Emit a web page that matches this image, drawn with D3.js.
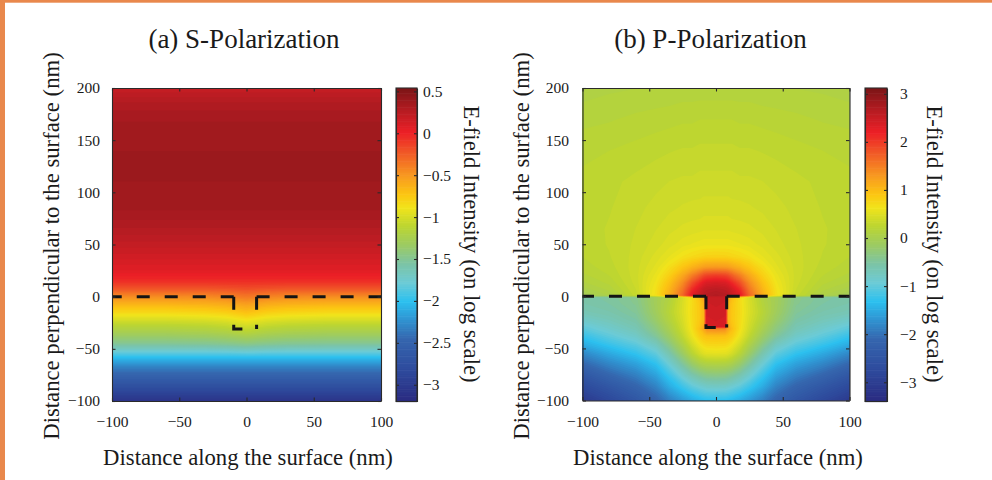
<!DOCTYPE html>
<html>
<head>
<meta charset="utf-8">
<script src="https://cdn.jsdelivr.net/npm/d3@7"></script>
<style>
  body { margin: 0; background: #fff; }
  svg { display: block; }
</style>
</head>
<body>
<svg id="fig" width="992" height="480"></svg>
<script>
// ---------- shared axes ----------
const xTicks = [-100, -50, 0, 50, 100];
const yTicks = [-100, -50, 0, 50, 100, 150, 200];
const xLabel = "Distance along the surface (nm)";
const yLabel = "Distance perpendicular to the surface (nm)";
const barLabel = "E-field Intensity (on log scale)";

// ---------- (a) S-polarization: log10 |E|^2 sampled on a grid (rows top -> bottom) ----------
const sTitle = "(a) S-Polarization";
const sGridX = [-100, -60, -30, -15, 0, 15, 30, 60, 100];
const sGridY = [200, 185, 170, 150, 125, 100, 85, 70, 55, 40, 25, 15, 8, 0, -8, -16, -25, -35, -45, -52, -58, -67, -78, -88, -100];
const sField = [
  [0.20, 0.20, 0.20, 0.20, 0.20, 0.20, 0.20, 0.20, 0.20],
  [0.30, 0.30, 0.30, 0.30, 0.30, 0.30, 0.30, 0.30, 0.30],
  [0.35, 0.35, 0.35, 0.35, 0.35, 0.35, 0.35, 0.35, 0.35],
  [0.38, 0.38, 0.38, 0.38, 0.38, 0.38, 0.38, 0.38, 0.38],
  [0.39, 0.39, 0.39, 0.39, 0.39, 0.39, 0.39, 0.39, 0.39],
  [0.38, 0.38, 0.38, 0.38, 0.38, 0.38, 0.38, 0.38, 0.38],
  [0.36, 0.36, 0.36, 0.36, 0.36, 0.36, 0.36, 0.36, 0.36],
  [0.31, 0.31, 0.31, 0.31, 0.31, 0.31, 0.31, 0.31, 0.31],
  [0.24, 0.24, 0.24, 0.24, 0.24, 0.24, 0.24, 0.24, 0.24],
  [0.16, 0.16, 0.16, 0.16, 0.16, 0.16, 0.16, 0.16, 0.16],
  [0.07, 0.07, 0.07, 0.07, 0.07, 0.07, 0.07, 0.07, 0.07],
  [-0.04, -0.04, -0.04, -0.04, -0.04, -0.04, -0.04, -0.04, -0.04],
  [-0.20, -0.20, -0.20, -0.19, -0.17, -0.19, -0.20, -0.20, -0.20],
  [-0.45, -0.45, -0.44, -0.41, -0.36, -0.41, -0.44, -0.45, -0.45],
  [-0.66, -0.66, -0.64, -0.61, -0.55, -0.61, -0.64, -0.66, -0.66],
  [-0.84, -0.84, -0.82, -0.79, -0.72, -0.79, -0.82, -0.84, -0.84],
  [-1.06, -1.06, -1.04, -1.01, -0.94, -1.01, -1.04, -1.06, -1.06],
  [-1.27, -1.27, -1.25, -1.22, -1.16, -1.22, -1.25, -1.27, -1.27],
  [-1.50, -1.50, -1.49, -1.47, -1.44, -1.47, -1.49, -1.50, -1.50],
  [-1.75, -1.75, -1.75, -1.74, -1.72, -1.74, -1.75, -1.75, -1.75],
  [-2.00, -2.00, -2.00, -2.00, -2.00, -2.00, -2.00, -2.00, -2.00],
  [-2.30, -2.30, -2.30, -2.30, -2.30, -2.30, -2.30, -2.30, -2.30],
  [-2.55, -2.55, -2.55, -2.55, -2.55, -2.55, -2.55, -2.55, -2.55],
  [-2.80, -2.80, -2.80, -2.80, -2.80, -2.80, -2.80, -2.80, -2.80],
  [-3.08, -3.08, -3.08, -3.08, -3.08, -3.08, -3.08, -3.08, -3.08]
];
const sRange = [-3.2, 0.54];
const sBarTicks = [0.5, 0, -0.5, -1, -1.5, -2, -2.5, -3];
const sTrench = [[-9.5, 0], [-9.5, -31], [7.5, -31], [7.5, 0]];

// ---------- (b) P-polarization ----------
const pTitle = "(b) P-Polarization";
const pGridX = [-100, -80, -60, -45, -35, -25, -18, -12, -9, -7, 0, 7, 9, 12, 18, 25, 35, 45, 60, 80, 100];
const pGridY = [200, 170, 140, 110, 85, 65, 50, 38, 28, 20, 13, 7, 1, -1, -7, -15, -22, -29, -31, -38, -45, -55, -65, -75, -87, -100];
const pField = [
  [0.10, 0.12, 0.13, 0.14, 0.14, 0.15, 0.15, 0.15, 0.15, 0.15, 0.15, 0.15, 0.15, 0.15, 0.15, 0.15, 0.14, 0.14, 0.13, 0.12, 0.10],
  [0.17, 0.18, 0.20, 0.21, 0.22, 0.23, 0.23, 0.24, 0.24, 0.24, 0.24, 0.24, 0.24, 0.24, 0.23, 0.23, 0.22, 0.21, 0.20, 0.18, 0.17],
  [0.22, 0.24, 0.26, 0.28, 0.29, 0.30, 0.30, 0.31, 0.31, 0.31, 0.31, 0.31, 0.31, 0.31, 0.30, 0.30, 0.29, 0.28, 0.26, 0.24, 0.22],
  [0.26, 0.28, 0.31, 0.33, 0.35, 0.36, 0.36, 0.37, 0.37, 0.37, 0.37, 0.37, 0.37, 0.37, 0.36, 0.36, 0.35, 0.33, 0.31, 0.28, 0.26],
  [0.27, 0.29, 0.33, 0.37, 0.39, 0.41, 0.42, 0.42, 0.43, 0.43, 0.43, 0.43, 0.43, 0.42, 0.42, 0.41, 0.39, 0.37, 0.33, 0.29, 0.27],
  [0.27, 0.30, 0.35, 0.40, 0.44, 0.47, 0.48, 0.49, 0.50, 0.50, 0.50, 0.50, 0.50, 0.49, 0.48, 0.47, 0.44, 0.40, 0.35, 0.30, 0.27],
  [0.26, 0.30, 0.36, 0.43, 0.49, 0.54, 0.57, 0.59, 0.60, 0.60, 0.60, 0.60, 0.60, 0.59, 0.57, 0.54, 0.49, 0.43, 0.36, 0.30, 0.26],
  [0.24, 0.29, 0.37, 0.48, 0.57, 0.68, 0.74, 0.78, 0.80, 0.81, 0.82, 0.81, 0.80, 0.78, 0.74, 0.68, 0.57, 0.48, 0.37, 0.29, 0.24],
  [0.21, 0.27, 0.38, 0.53, 0.70, 0.92, 1.08, 1.20, 1.26, 1.28, 1.30, 1.28, 1.26, 1.20, 1.08, 0.92, 0.70, 0.53, 0.38, 0.27, 0.21],
  [0.17, 0.24, 0.38, 0.59, 0.83, 1.18, 1.50, 1.75, 1.90, 1.95, 2.00, 1.95, 1.90, 1.75, 1.50, 1.18, 0.83, 0.59, 0.38, 0.24, 0.17],
  [0.12, 0.20, 0.37, 0.64, 0.96, 1.40, 1.85, 2.15, 2.30, 2.36, 2.40, 2.36, 2.30, 2.15, 1.85, 1.40, 0.96, 0.64, 0.37, 0.20, 0.12],
  [0.05, 0.15, 0.35, 0.68, 1.05, 1.55, 2.10, 2.40, 2.52, 2.56, 2.60, 2.56, 2.52, 2.40, 2.10, 1.55, 1.05, 0.68, 0.35, 0.15, 0.05],
  [-0.03, 0.08, 0.32, 0.70, 1.12, 1.68, 2.30, 2.50, 2.62, 2.66, 2.70, 2.66, 2.62, 2.50, 2.30, 1.68, 1.12, 0.70, 0.32, 0.08, -0.03],
  [-0.55, -0.50, -0.38, -0.05, 0.12, 0.45, 0.72, 1.00, 1.25, 2.48, 2.50, 2.48, 1.25, 1.00, 0.72, 0.45, 0.12, -0.05, -0.38, -0.50, -0.55],
  [-0.58, -0.52, -0.40, -0.05, 0.16, 0.47, 0.72, 0.92, 1.10, 2.46, 2.48, 2.46, 1.10, 0.92, 0.72, 0.47, 0.16, -0.05, -0.40, -0.52, -0.58],
  [-0.65, -0.58, -0.45, -0.08, 0.20, 0.48, 0.73, 0.90, 1.05, 2.43, 2.45, 2.43, 1.05, 0.90, 0.73, 0.48, 0.20, -0.08, -0.45, -0.58, -0.65],
  [-0.80, -0.67, -0.52, -0.15, 0.15, 0.45, 0.72, 0.90, 1.05, 2.40, 2.42, 2.40, 1.05, 0.90, 0.72, 0.45, 0.15, -0.15, -0.52, -0.67, -0.80],
  [-0.98, -0.80, -0.62, -0.27, 0.05, 0.40, 0.70, 0.95, 1.15, 2.38, 2.40, 2.38, 1.15, 0.95, 0.70, 0.40, 0.05, -0.27, -0.62, -0.80, -0.98],
  [-1.03, -0.84, -0.65, -0.30, 0.02, 0.38, 0.69, 0.98, 1.20, 1.42, 1.45, 1.42, 1.20, 0.98, 0.69, 0.38, 0.02, -0.30, -0.65, -0.84, -1.03],
  [-1.25, -1.00, -0.80, -0.45, -0.12, 0.28, 0.60, 0.85, 0.92, 0.96, 0.98, 0.96, 0.92, 0.85, 0.60, 0.28, -0.12, -0.45, -0.80, -1.00, -1.25],
  [-1.45, -1.20, -0.98, -0.68, -0.30, 0.12, 0.45, 0.68, 0.76, 0.79, 0.80, 0.79, 0.76, 0.68, 0.45, 0.12, -0.30, -0.68, -0.98, -1.20, -1.45],
  [-1.80, -1.52, -1.28, -1.00, -0.60, -0.15, 0.20, 0.42, 0.50, 0.53, 0.55, 0.53, 0.50, 0.42, 0.20, -0.15, -0.60, -1.00, -1.28, -1.52, -1.80],
  [-2.10, -1.82, -1.58, -1.30, -0.90, -0.48, -0.18, 0.02, 0.07, 0.10, 0.12, 0.10, 0.07, 0.02, -0.18, -0.48, -0.90, -1.30, -1.58, -1.82, -2.10],
  [-2.42, -2.10, -1.85, -1.55, -1.20, -0.82, -0.57, -0.42, -0.36, -0.33, -0.30, -0.33, -0.36, -0.42, -0.57, -0.82, -1.20, -1.55, -1.85, -2.10, -2.42],
  [-2.75, -2.45, -2.15, -1.85, -1.50, -1.22, -1.02, -0.90, -0.85, -0.82, -0.80, -0.82, -0.85, -0.90, -1.02, -1.22, -1.50, -1.85, -2.15, -2.45, -2.75],
  [-3.08, -2.78, -2.45, -2.15, -1.88, -1.65, -1.50, -1.40, -1.36, -1.34, -1.32, -1.34, -1.36, -1.40, -1.50, -1.65, -1.88, -2.15, -2.45, -2.78, -3.08]
];
const pRange = [-3.4, 3.12];
const pBarTicks = [3, 2, 1, 0, -1, -2, -3];
const pTrench = [[-7.5, 0], [-7.5, -30], [8, -30], [8, 0]];

// ---------- colour ramp (jet-like) ----------
const rampPos = [0, 0.10, 0.20, 0.27, 0.32, 0.38, 0.44, 0.50, 0.56, 0.62, 0.66, 0.72, 0.79, 0.86, 0.93, 1.0];
const rampColors = ["#2a2a80", "#2e4a9c", "#3566ae", "#2f9ad6", "#2cc0ef", "#6ccbd6", "#7cc4a6", "#9ccb63",
                    "#bcd531", "#f1e41b", "#fcc712", "#f89a1f", "#f15d27", "#ec1f26", "#b51c22", "#7c1517"];
const ramp = d3.scaleLinear().domain(rampPos).range(rampColors).clamp(true);

const FONT = "'Liberation Serif', 'Times New Roman', serif";
const INK = "#1a1a1a";
const svg = d3.select("#fig");

svg.append("rect").attr("width", 992).attr("height", 480).attr("fill", "#fff");
// orange page rule along the top and left edges
svg.append("rect").attr("x", 0).attr("y", 0).attr("width", 992).attr("height", 2.7).attr("fill", "#e9884c");
svg.append("rect").attr("x", 0).attr("y", 0).attr("width", 5).attr("height", 480).attr("fill", "#e9884c");

function styleAxis(sel) {
  sel.attr("font-family", FONT).attr("font-size", 15.5);
  sel.select(".domain").attr("stroke", "#2a2a2a").attr("stroke-width", 1.1);
  sel.selectAll(".tick line").attr("stroke", "#2a2a2a").attr("stroke-width", 1.1);
  sel.selectAll(".tick text").attr("fill", INK);
}

function drawPanel(p) {
  const g = svg.append("g");
  const x = d3.scaleLinear().domain([-100, 100]).range([p.left, p.right]);
  const y = d3.scaleLinear().domain([-100, 200]).range([p.bottom, p.top]);
  const [lo, hi] = p.range;
  const tone = v => ramp((v - lo) / (hi - lo));

  // grid index -> data coordinate (samples sit at cell centres)
  const nx = p.gx.length, ny = p.gy.length;
  const iu = d3.scaleLinear()
    .domain([0, ...p.gx.map((_, i) => i + 0.5), nx])
    .range([p.gx[0], ...p.gx, p.gx[nx - 1]]);
  const jv = d3.scaleLinear()
    .domain([0, ...p.gy.map((_, j) => j + 0.5), ny])
    .range([p.gy[0], ...p.gy, p.gy[ny - 1]]);

  // filled contour bands
  const nLev = 120;
  const step = (hi - lo) / nLev;
  const levels = d3.range(nLev).map(k => lo + k * step);
  const bands = d3.contours().size([nx, ny]).thresholds(levels)(p.field.flat());
  const proj = d3.geoTransform({
    point(u, v) { this.stream.point(x(iu(u)), y(jv(v))); }
  });
  const path = d3.geoPath(proj);

  const clipId = "clip-" + p.key;
  svg.append("clipPath").attr("id", clipId)
    .append("rect").attr("x", p.left).attr("y", p.top)
    .attr("width", p.right - p.left).attr("height", p.bottom - p.top);

  g.append("g").attr("clip-path", `url(#${clipId})`)
    .selectAll("path").data(bands).join("path")
    .attr("d", path)
    .attr("fill-rule", "evenodd")
    .attr("fill", d => tone(d.value + step / 2));

  // surface and trench outline
  const t = p.trench;
  const rims = [[t[0], [-100, 0]], [t[3], [100, 0]], [t[0], t[1], t[2]], [t[3], t[2]]];
  const line = d3.line().x(d => x(d[0])).y(d => y(d[1]));
  g.append("g").selectAll("path").data(rims).join("path")
    .attr("d", line)
    .attr("fill", "none")
    .attr("stroke", "#141414")
    .attr("stroke-width", 3)
    .attr("stroke-dasharray", "13 15");

  // axes (ticks inward on all four sides)
  const fmt = d3.format("~g");
  g.append("g").attr("transform", `translate(0,${p.bottom})`)
    .call(d3.axisBottom(x).tickValues(xTicks).tickFormat(fmt).tickSizeInner(-3.5).tickSizeOuter(0).tickPadding(15))
    .call(styleAxis);
  g.append("g").attr("transform", `translate(0,${p.top})`)
    .call(d3.axisTop(x).tickValues(xTicks).tickFormat(() => "").tickSizeInner(-3.5).tickSizeOuter(0))
    .call(styleAxis);
  g.append("g").attr("transform", `translate(${p.left},0)`)
    .call(d3.axisLeft(y).tickValues(yTicks).tickFormat(fmt).tickSizeInner(-3.5).tickSizeOuter(0).tickPadding(p.yPad))
    .call(styleAxis);
  g.append("g").attr("transform", `translate(${p.right},0)`)
    .call(d3.axisRight(y).tickValues(yTicks).tickFormat(() => "").tickSizeInner(-3.5).tickSizeOuter(0))
    .call(styleAxis);

  // colour bar
  const cb = svg.append("g");
  const cy = d3.scaleLinear().domain([lo, hi]).range([p.cbBottom, p.cbTop]);
  const nStrip = 180;
  const h = (hi - lo) / nStrip;
  cb.append("g").selectAll("rect").data(d3.range(nStrip).map(k => lo + k * h)).join("rect")
    .attr("x", p.cbLeft)
    .attr("width", p.cbRight - p.cbLeft)
    .attr("y", v => cy(v + h))
    .attr("height", v => cy(v) - cy(v + h) + 0.6)
    .attr("fill", v => tone(v + h / 2));
  cb.append("g").attr("transform", `translate(${p.cbRight},0)`)
    .call(d3.axisRight(cy).tickValues(p.barTicks).tickFormat(fmt).tickSizeInner(-3).tickSizeOuter(0).tickPadding(p.cbPad))
    .call(styleAxis);
  cb.append("g").attr("transform", `translate(${p.cbLeft},0)`)
    .call(d3.axisLeft(cy).tickValues(p.barTicks).tickFormat(() => "").tickSizeInner(-3).tickSizeOuter(0))
    .call(styleAxis);
  cb.append("rect")
    .attr("x", p.cbLeft).attr("y", p.cbTop)
    .attr("width", p.cbRight - p.cbLeft).attr("height", p.cbBottom - p.cbTop)
    .attr("fill", "none").attr("stroke", "#2a2a2a").attr("stroke-width", 1.1);

  // texts
  const txt = svg.append("g").attr("font-family", FONT).attr("fill", INK);
  txt.append("text").attr("x", p.titleX).attr("y", 48)
    .attr("text-anchor", "middle").attr("font-size", 27).text(p.title);
  txt.append("text").attr("x", p.xLabelX).attr("y", 465)
    .attr("text-anchor", "middle").attr("font-size", 22.7).text(xLabel);
  txt.append("text").attr("transform", `translate(${p.yLabelX},246) rotate(-90)`)
    .attr("text-anchor", "middle").attr("font-size", 22.7).text(yLabel);
  txt.append("text").attr("transform", `translate(${p.barLabelX},244) rotate(90)`)
    .attr("text-anchor", "middle").attr("font-size", 22.7).text(barLabel);
}

drawPanel({
  key: "s", title: sTitle, gx: sGridX, gy: sGridY, field: sField, range: sRange,
  barTicks: sBarTicks, trench: sTrench,
  left: 112, right: 381, top: 88, bottom: 401, yPad: 12,
  cbLeft: 396, cbRight: 417, cbTop: 88, cbBottom: 401.5, cbPad: 6,
  titleX: 244, xLabelX: 248, yLabelX: 59, barLabelX: 463.5
});

drawPanel({
  key: "p", title: pTitle, gx: pGridX, gy: pGridY, field: pField, range: pRange,
  barTicks: pBarTicks, trench: pTrench,
  left: 582.5, right: 849.5, top: 88, bottom: 400.5, yPad: 13.5,
  cbLeft: 865, cbRight: 887, cbTop: 88, cbBottom: 401.5, cbPad: 13,
  titleX: 710.5, xLabelX: 718, yLabelX: 529, barLabelX: 927
});
</script>
</body>
</html>
